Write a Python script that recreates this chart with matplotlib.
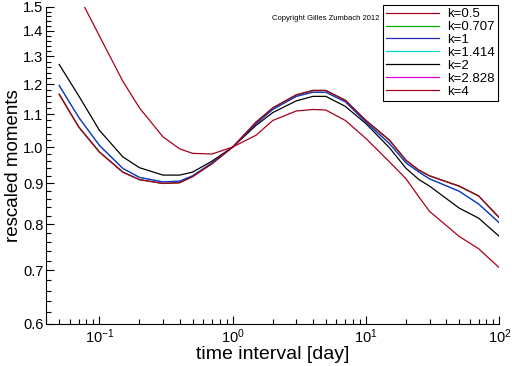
import numpy as np
import matplotlib
matplotlib.use("Agg")
import matplotlib.pyplot as plt
from matplotlib.ticker import FixedLocator, FormatStrFormatter, NullFormatter

plt.rcParams['font.family'] = ['Liberation Sans', 'DejaVu Sans']
plt.rcParams['mathtext.fontset'] = 'custom'
plt.rcParams['mathtext.rm'] = 'Liberation Sans'
plt.rcParams['mathtext.it'] = 'Liberation Sans'

# time interval [day]
x = [0.05, 0.07, 0.1, 0.15, 0.2, 0.3, 0.4, 0.5, 0.7, 1, 1.5, 2, 3, 4, 5, 7,
     10, 15, 20, 25, 30, 50, 70, 100]

# rescaled moments for each k
k05 = [1.165, 1.06, 0.986, 0.93, 0.91, 0.90, 0.902, 0.918, 0.953, 1.0, 1.075, 1.12,
       1.163, 1.178, 1.178, 1.145, 1.08, 1.02, 0.962, 0.935, 0.92, 0.893, 0.868, 0.815]
# green, cyan and magenta curves are hidden under the others in the picture
k0707 = [1.165, 1.06, 0.986, 0.93, 0.91, 0.90, 0.902, 0.918, 0.953, 1.0, 1.075, 1.12,
         1.163, 1.178, 1.178, 1.145, 1.08, 1.02, 0.962, 0.935, 0.92, 0.893, 0.868, 0.815]
k1 = [1.195, 1.09, 1.005, 0.94, 0.916, 0.904, 0.906, 0.92, 0.955, 1.0, 1.07, 1.115,
      1.158, 1.172, 1.172, 1.14, 1.075, 1.01, 0.955, 0.93, 0.912, 0.88, 0.848, 0.803]
k1414 = [1.195, 1.09, 1.005, 0.94, 0.916, 0.904, 0.906, 0.92, 0.955, 1.0, 1.07, 1.115,
         1.158, 1.172, 1.172, 1.14, 1.075, 1.01, 0.955, 0.93, 0.912, 0.88, 0.848, 0.803]
k2 = [1.27, 1.16, 1.05, 0.972, 0.942, 0.922, 0.922, 0.93, 0.96, 1.0, 1.065, 1.105,
      1.143, 1.158, 1.158, 1.125, 1.07, 0.998, 0.94, 0.91, 0.893, 0.838, 0.814, 0.772]
k2828 = [1.165, 1.06, 0.986, 0.93, 0.91, 0.90, 0.902, 0.918, 0.953, 1.0, 1.075, 1.12,
         1.163, 1.178, 1.178, 1.145, 1.08, 1.02, 0.962, 0.935, 0.92, 0.893, 0.868, 0.815]
k4 = [1.75, 1.55, 1.38, 1.21, 1.12, 1.03, 0.995, 0.982, 0.98, 1.0, 1.035, 1.08,
      1.11, 1.115, 1.113, 1.08, 1.025, 0.958, 0.912, 0.865, 0.83, 0.772, 0.745, 0.705]

labels = ['k=0.5', 'k=0.707', 'k=1', 'k=1.414', 'k=2', 'k=2.828', 'k=4']
series = [k05, k0707, k1, k1414, k2, k2828, k4]
colors = ['#a8001c', '#00b000', '#2828c0', '#00dcdc', '#000000', '#e000e0', '#a8001c']
zorders = [6, 2, 5, 3, 4, 1, 7]

fig = plt.figure(figsize=(5.12, 3.66), dpi=100)
ax = fig.add_axes([0.0904, 0.1161, 0.8848, 0.8648])

for y, lab, c, z in zip(series, labels, colors, zorders):
    ax.plot(x, y, color=c, lw=0.9, label=lab, zorder=z)

ax.set_xscale('log')
ax.set_yscale('log')
ax.set_xlim(0.04, 100)
ax.set_ylim(0.6, 1.5)

ax.yaxis.set_major_locator(FixedLocator(np.arange(0.6, 1.51, 0.1)))
ax.yaxis.set_minor_locator(FixedLocator(np.arange(0.6, 1.51, 0.02)))
ax.yaxis.set_major_formatter(FormatStrFormatter('%.1f'))
ax.yaxis.set_minor_formatter(NullFormatter())

ax.tick_params(which='both', direction='in', labelsize=10.5, width=0.8)
ax.tick_params(which='major', length=6, pad=3)
ax.tick_params(which='minor', length=3.5)
ax.tick_params(axis='y', which='major', pad=2)
ax.spines['top'].set_visible(False)
ax.spines['right'].set_visible(False)

ax.set_xlabel('time interval [day]', fontsize=14, labelpad=0)
ax.set_ylabel('rescaled moments', fontsize=13.5, labelpad=1)

ax.text(0.735, 0.963, 'Copyright Gilles Zumbach 2012', transform=ax.transAxes,
        fontsize=5.5, ha='right', va='center')

leg = ax.legend(loc='upper right', bbox_to_anchor=(0.997, 1.007), fontsize=9.5,
                frameon=True, fancybox=False, framealpha=1, edgecolor='black',
                handlelength=4.0, handletextpad=0.6, labelspacing=0.05,
                borderpad=0.25, borderaxespad=0)
leg.get_frame().set_linewidth(0.8)

fig.savefig('out.png', dpi=100)
